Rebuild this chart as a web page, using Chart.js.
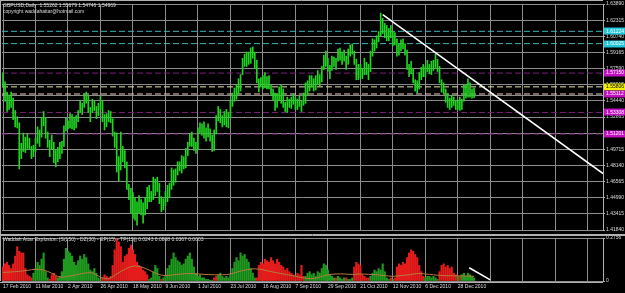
<!DOCTYPE html>
<html><head><meta charset="utf-8">
<script src="https://cdn.jsdelivr.net/npm/chart.js@4.4.0/dist/chart.umd.min.js"></script>
<style>
html,body{margin:0;padding:0;background:#000;width:625px;height:293px;overflow:hidden}
#wrap{position:relative;width:625px;height:293px;background:#000}
#c1{position:absolute;left:0;top:0}
#c2{position:absolute;left:0;top:234px}
</style></head><body>
<div id="wrap"><canvas id="c1" width="625" height="234"></canvas><canvas id="c2" width="625" height="59"></canvas></div>
<script>
// ---------- DATA ----------
const symbolTitle = "GBPUSD,Daily  1.55262 1.55679 1.54746 1.54969";
const copyrightText = "copyright waddahattar@hotmail.com";
const indicatorTitle = "Waddah Attar Explosion: [S(150) - DZ(30) - EP(15) - TP(15)] 0.0243 0.0808 0.0367 0.0003";

const dateTicks = ["17 Feb 2010","11 Mar 2010","2 Apr 2010","26 Apr 2010","18 May 2010","9 Jun 2010","1 Jul 2010","23 Jul 2010","16 Aug 2010","7 Sep 2010","29 Sep 2010","21 Oct 2010","12 Nov 2010","6 Dec 2010","28 Dec 2010"];

const priceTicks = [1.41840,1.43415,1.44990,1.46565,1.48140,1.49715,1.51290,1.52865,1.54440,1.56015,1.57590,1.59165,1.60740,1.62315,1.63890];
const indicatorTicks = [0, 0.2756];

const highs = [
1.5720,1.5630,1.5530,1.5500,1.5530,1.5470,1.5350,1.5290,
1.5230,1.5030,1.5130,1.5090,1.5120,
1.5080,1.5000,1.5010,1.5080,1.5190,
1.5160,1.5280,1.5340,1.5280,1.5140,
1.5060,1.5110,1.5040,1.4960,1.4990,
1.5040,1.5050,1.5200,1.5280,1.5250,
1.5320,1.5310,1.5280,1.5300,1.5350,
1.5450,1.5420,1.5510,1.5530,1.5490,
1.5380,1.5460,1.5440,1.5390,1.5420,
1.5490,1.5440,1.5310,1.5320,1.5350,
1.5340,1.5270,1.5140,1.5130,1.4900,
1.5140,1.5000,1.4960,1.4850,1.4630,
1.4590,1.4550,1.4500,1.4460,1.4520,
1.4480,1.4450,1.4500,1.4600,1.4620,
1.4560,1.4700,1.4680,1.4700,1.4640,
1.4510,1.4490,1.4560,1.4620,1.4640,
1.4790,1.4770,1.4780,1.4850,1.4850,
1.4910,1.4900,1.4980,1.5040,1.5120,
1.5140,1.5080,1.5040,1.5180,1.5230,
1.5220,1.5240,1.5180,1.5220,1.5170,
1.5110,1.5160,1.5300,1.5390,1.5360,
1.5300,1.5340,1.5360,1.5330,1.5450,
1.5520,1.5570,1.5600,1.5660,1.5700,
1.5860,1.5900,1.5920,1.5920,1.5960,
1.5970,1.5920,1.5840,1.5660,1.5670,
1.5690,1.5720,1.5680,1.5690,1.5600,
1.5560,1.5520,1.5510,1.5580,1.5600,
1.5560,1.5430,1.5480,1.5460,1.5480,
1.5510,1.5480,1.5460,1.5490,1.5440,
1.5520,1.5620,1.5640,1.5690,1.5690,
1.5660,1.5690,1.5740,1.5700,1.5780,
1.5890,1.5930,1.5860,1.5790,1.5880,
1.5870,1.5860,1.5950,1.5960,1.5920,
1.5940,1.5880,1.5950,1.5990,1.6000,
1.5930,1.5850,1.5800,1.5800,1.5760,
1.5860,1.5820,1.5800,1.5930,1.6050,
1.6040,1.6080,1.6120,1.6300,1.6250,
1.6200,1.6180,1.6150,1.6180,1.6120,
1.6110,1.6050,1.6000,1.6040,1.6050,
1.6000,1.5940,1.5800,1.5830,1.5760,
1.5650,1.5640,1.5720,1.5770,1.5800,
1.5780,1.5840,1.5800,1.5830,1.5840,
1.5900,1.5850,1.5780,1.5650,1.5620,
1.5560,1.5510,1.5470,1.5500,1.5480,
1.5450,1.5440,1.5480,1.5460,1.5600,
1.5600,1.5660,1.5620,1.5560,1.5568];

const lows = [
1.5580,1.5440,1.5340,1.5360,1.5380,1.5260,1.5190,1.5180,
1.4780,1.4880,1.4950,1.4940,1.4980,
1.4970,1.4880,1.4900,1.4950,1.5030,
1.5000,1.5090,1.5200,1.5080,1.4990,
1.4900,1.4970,1.4840,1.4800,1.4850,
1.4880,1.4930,1.5000,1.5150,1.5170,
1.5180,1.5170,1.5160,1.5180,1.5240,
1.5330,1.5310,1.5380,1.5420,1.5330,
1.5240,1.5330,1.5350,1.5270,1.5300,
1.5360,1.5240,1.5160,1.5190,1.5240,
1.5230,1.5100,1.4990,1.4750,1.4660,
1.4770,1.4850,1.4790,1.4580,1.4480,
1.4350,1.4300,1.4280,1.4230,1.4350,
1.4330,1.4250,1.4330,1.4390,1.4460,
1.4460,1.4480,1.4520,1.4560,1.4440,
1.4360,1.4380,1.4420,1.4460,1.4500,
1.4580,1.4620,1.4650,1.4720,1.4760,
1.4740,1.4780,1.4790,1.4910,1.5000,
1.5000,1.4960,1.4930,1.4970,1.5130,
1.5110,1.5080,1.5050,1.5090,1.5050,
1.4950,1.4960,1.5120,1.5250,1.5230,
1.5190,1.5210,1.5190,1.5180,1.5280,
1.5390,1.5440,1.5460,1.5510,1.5540,
1.5700,1.5780,1.5780,1.5800,1.5810,
1.5860,1.5760,1.5620,1.5530,1.5580,
1.5560,1.5570,1.5560,1.5560,1.5500,
1.5450,1.5350,1.5380,1.5450,1.5420,
1.5380,1.5340,1.5330,1.5380,1.5370,
1.5410,1.5360,1.5360,1.5390,1.5340,
1.5400,1.5420,1.5500,1.5540,1.5580,
1.5540,1.5550,1.5610,1.5590,1.5630,
1.5750,1.5780,1.5730,1.5660,1.5740,
1.5780,1.5750,1.5830,1.5840,1.5800,
1.5830,1.5750,1.5800,1.5880,1.5900,
1.5800,1.5650,1.5650,1.5670,1.5660,
1.5700,1.5700,1.5650,1.5730,1.5880,
1.5930,1.5960,1.6020,1.6080,1.6100,
1.6060,1.6030,1.6030,1.6060,1.5980,
1.5990,1.5880,1.5890,1.5930,1.5950,
1.5890,1.5750,1.5680,1.5710,1.5620,
1.5540,1.5520,1.5560,1.5650,1.5680,
1.5680,1.5730,1.5710,1.5700,1.5740,
1.5770,1.5730,1.5620,1.5530,1.5520,
1.5430,1.5380,1.5360,1.5380,1.5400,
1.5360,1.5360,1.5350,1.5360,1.5440,
1.5470,1.5480,1.5480,1.5470,1.5475];

// horizontal levels drawn on the chart
const levelValues = [1.61224, 1.60025, 1.57150, 1.55806, 1.55112, 1.53308, 1.51201];
const levelKinds  = ["cyan","cyan","purple","yellow","pink","purple","purple"];
const bidPrice = 1.54969;
// trend line (bar index, price)
const trendX = [187, 295.5];
const trendY = [1.6285, 1.4735];

// Waddah Attar trend (signed: + up / - down)
const trendDelta = [
-0.09,-0.11,-0.12,-0.10,-0.08,-0.11,-0.16,-0.22,-0.19,-0.18,
-0.18,-0.08,-0.04,-0.03,-0.02,
0.05,0.08,0.12,0.10,0.14,0.18,
0.06,0.02,-0.01,
-0.04,-0.05,-0.03,
0.02,0.03,
0.06,0.14,0.21,0.19,0.18,0.16,
0.12,0.10,0.13,0.16,0.14,0.17,0.15,
0.11,0.07,0.06,0.08,0.05,
0.02,0.01,
-0.02,-0.04,-0.03,-0.02,-0.03,
-0.10,-0.20,-0.27,-0.25,-0.22,
-0.12,-0.16,-0.17,
-0.21,-0.23,-0.20,-0.17,
-0.12,-0.10,-0.09,-0.07,-0.06,-0.04,
0.01,0.02,
0.06,0.10,0.08,
0.03,-0.01,0.02,0.03,
0.08,0.10,0.14,0.18,0.15,0.13,0.12,0.10,0.11,0.14,0.16,0.18,0.14,0.09,
0.05,0.03,0.04,0.02,0.02,0.01,0.01,0.005,0.005,
-0.02,-0.03,
0.04,0.05,0.03,0.02,0.03,0.02,0.04,
0.08,0.12,0.15,0.13,0.18,0.16,0.17,0.14,0.12,
0.08,0.05,0.02,-0.02,
-0.10,-0.12,-0.11,-0.14,-0.13,-0.12,-0.15,-0.13,-0.11,-0.14,-0.12,
-0.10,-0.09,-0.07,-0.08,-0.06,-0.05,-0.04,-0.03,-0.05,-0.04,-0.10,-0.03,
0.03,0.05,0.06,0.04,0.05,0.03,0.06,0.05,
0.08,0.11,0.10,0.07,
0.04,0.03,0.02,-0.02,0.03,0.02,0.01,0.02,-0.02,
0.01,0.01,0.02,-0.09,-0.12,-0.11,-0.10,-0.04,
-0.03,-0.02,-0.02,
0.03,0.05,0.07,0.06,0.08,0.07,0.11,0.06,
0.02,0.01,-0.02,0.01,-0.02,
-0.09,-0.11,-0.10,-0.12,-0.11,
-0.15,-0.18,-0.20,-0.19,-0.17,-0.15,-0.10,
-0.06,-0.03,
0.02,0.03,0.03,0.02,0.03,0.02,0.01,
-0.06,-0.10,-0.11,-0.09,-0.10,-0.08,-0.09,
-0.05,-0.04,0.03,-0.03,0.04,
0.05,0.03,0.05,0.04,0.03,0.02];

// explosion line, one value every 4 bars
const explosionStep = 4;
const explosionLine = [0.055,0.058,0.062,0.068,0.075,0.070,0.050,0.025,0.030,0.040,0.050,0.052,0.025,0.015,0.045,0.075,0.095,0.090,0.070,0.045,0.035,0.040,0.045,0.048,0.045,0.042,0.040,0.040,0.045,0.060,0.072,0.078,0.072,0.060,0.050,0.040,0.030,0.020,0.015,0.025,0.040,0.045,0.045,0.042,0.045,0.043,0.040,0.035,0.030,0.035,0.040,0.048,0.045,0.040,0.035,0.034,0.033,0.032,0.030];
// short trend line drawn on indicator
const indTrendX = [229.6, 240];
const indTrendY = [0.085, 0.007];

// ---------- STYLE ----------
const X_MIN = -0.5, X_MAX = 295.5;
const FONT = "'Liberation Sans', Arial, sans-serif";
const gridCol = "#8c8c8c";
const textCol = "#dcdcdc";
const kindStyle = {
  cyan:   {line:"#3fb4b8", box:"#22c6d6", text:"#ffffff"},
  purple: {line:"#7a1f7a", box:"#c010c0", text:"#ffffff"},
  yellow: {line:"#e6e6a8", box:"#f2f200", text:"#000000"},
  pink:   {line:"#f2c8b8", box:"#c010c0", text:"#ffffff"}
};
const gridTicksX = [];
for (let v = 0; v <= 290; v += 16) gridTicksX.push(v);

Chart.defaults.font.family = FONT;
Chart.defaults.animation = false;

// ---------- PRICE CHART ----------
const levelDatasets = levelValues.map((v, k) => ({
  type: 'line',
  data: [{x: X_MIN, y: v}, {x: X_MAX, y: v}],
  borderColor: kindStyle[levelKinds[k]].line,
  borderWidth: 1,
  borderDash: [6, 3],
  pointRadius: 0,
  order: 4
}));

const overlayA = {
  id: 'overlayA',
  afterDraw(chart) {
    const ctx = chart.ctx, ys = chart.scales.y, area = chart.chartArea;
    ctx.save();
    ctx.strokeStyle = "#b0b0b0"; ctx.lineWidth = 1;
    ctx.beginPath(); ctx.moveTo(0, 0.5); ctx.lineTo(area.right, 0.5);
    ctx.moveTo(0.5, 0); ctx.lineTo(0.5, 234); ctx.stroke();
    ctx.fillStyle = textCol; ctx.font = "5px " + FONT; ctx.textBaseline = "middle"; ctx.textAlign = "left";
    ctx.fillText(symbolTitle, 3, 6);
    ctx.fillText(copyrightText, 3, 12);
    levelValues.forEach((v, k) => {
      const st = kindStyle[levelKinds[k]];
      const py = ys.getPixelForValue(v);
      ctx.fillStyle = st.box;
      ctx.fillRect(area.right + 1, Math.round(py) - 3.5, 22, 7);
      ctx.fillStyle = st.text;
      ctx.fillText(v.toFixed(5), area.right + 3, py);
    });
    ctx.restore();
  }
};

new Chart(document.getElementById('c1'), {
  type: 'bar',
  data: {
    datasets: [
      {
        type: 'line',
        data: [{x: trendX[0], y: trendY[0]}, {x: trendX[1], y: trendY[1]}],
        borderColor: '#ffffff', borderWidth: 1.5, pointRadius: 0, order: 1
      },
      {
        type: 'bar',
        data: highs.map((h, i) => ({x: i, y: [lows[i], h]})),
        backgroundColor: '#22d422',
        borderWidth: 0,
        barThickness: 1,
        grouped: false,
        order: 2
      },
      {
        type: 'line',
        data: [{x: X_MIN, y: bidPrice}, {x: X_MAX, y: bidPrice}],
        borderColor: '#9a9a9a', borderWidth: 1, pointRadius: 0, order: 3
      },
      ...levelDatasets
    ]
  },
  options: {
    responsive: false,
    animation: false,
    layout: {padding: {left: 2, right: 0, top: 3, bottom: 1.5}},
    plugins: {legend: {display: false}, tooltip: {enabled: false}},
    scales: {
      x: {
        type: 'linear', min: X_MIN, max: X_MAX, offset: false,
        afterBuildTicks: s => { s.ticks = gridTicksX.map(v => ({value: v})); },
        afterFit: s => { s.height = 0; },
        ticks: {display: false},
        grid: {color: gridCol, borderDash: [1, 2], drawTicks: false, offset: false},
        border: {display: false}
      },
      y: {
        position: 'right', min: 1.4184, max: 1.6389,
        afterBuildTicks: s => { s.ticks = priceTicks.map(v => ({value: v})); },
        afterFit: s => { s.width = 22; },
        ticks: {autoSkip: false, color: textCol, font: {size: 5}, padding: 1, callback: v => Number(v).toFixed(5)},
        grid: {color: gridCol, borderDash: [1, 2], tickLength: 2, tickColor: '#b0b0b0', tickBorderDash: []},
        border: {display: true, color: '#b0b0b0'}
      }
    }
  },
  plugins: [overlayA]
});

// ---------- INDICATOR CHART ----------
const overlayB = {
  id: 'overlayB',
  afterDraw(chart) {
    const ctx = chart.ctx, area = chart.chartArea;
    ctx.save();
    ctx.strokeStyle = "#b0b0b0"; ctx.lineWidth = 1;
    ctx.beginPath();
    ctx.moveTo(0, 0.5); ctx.lineTo(625, 0.5);
    ctx.moveTo(0, 1.5); ctx.lineTo(625, 1.5);
    ctx.moveTo(0.5, 0); ctx.lineTo(0.5, area.bottom);
    ctx.moveTo(0, area.bottom + 1.5); ctx.lineTo(area.right, area.bottom + 1.5);
    ctx.stroke();
    ctx.fillStyle = textCol; ctx.font = "5px " + FONT; ctx.textBaseline = "middle"; ctx.textAlign = "left";
    ctx.fillText(indicatorTitle, 3, 6);
    ctx.restore();
  }
};

new Chart(document.getElementById('c2'), {
  type: 'bar',
  data: {
    datasets: [
      {
        type: 'line',
        data: [{x: indTrendX[0], y: indTrendY[0]}, {x: indTrendX[1], y: indTrendY[1]}],
        borderColor: '#ffffff', borderWidth: 1.5, pointRadius: 0, order: 1
      },
      {
        type: 'line',
        data: explosionLine.map((v, k) => ({x: k * explosionStep, y: v})),
        borderColor: '#b67a3c', borderWidth: 1, pointRadius: 0, tension: 0.35, order: 2
      },
      {
        type: 'bar',
        data: trendDelta.map((v, i) => ({x: i, y: Math.abs(v)})),
        backgroundColor: trendDelta.map(v => v >= 0 ? '#1f9a1f' : '#e41c1c'),
        borderWidth: 0, barThickness: 1.5, grouped: false, order: 3
      }
    ]
  },
  options: {
    responsive: false,
    animation: false,
    layout: {padding: {left: 2, right: 0, top: 4, bottom: 0}},
    plugins: {legend: {display: false}, tooltip: {enabled: false}},
    scales: {
      x: {
        type: 'linear', min: X_MIN, max: X_MAX, offset: false,
        afterBuildTicks: s => { s.ticks = gridTicksX.map(v => ({value: v})); },
        afterFit: s => { s.height = 12; },
        ticks: {autoSkip: false, maxRotation: 0, align: 'start', color: textCol, font: {size: 5}, padding: 3,
          callback: v => dateTicks[v / 16] || ''},
        grid: {color: gridCol, borderDash: [1, 2], drawTicks: false, offset: false},
        border: {display: false}
      },
      y: {
        position: 'right', min: 0, max: 0.2756,
        afterBuildTicks: s => { s.ticks = indicatorTicks.map(v => ({value: v})); },
        afterFit: s => { s.width = 22; },
        ticks: {autoSkip: false, color: textCol, font: {size: 5}, padding: 1, callback: v => v === 0 ? '0' : Number(v).toFixed(4)},
        grid: {color: gridCol, borderDash: [1, 2], tickLength: 2, tickColor: '#b0b0b0', tickBorderDash: []},
        border: {display: true, color: '#b0b0b0'}
      }
    }
  },
  plugins: [overlayB]
});
</script>
</body></html>
